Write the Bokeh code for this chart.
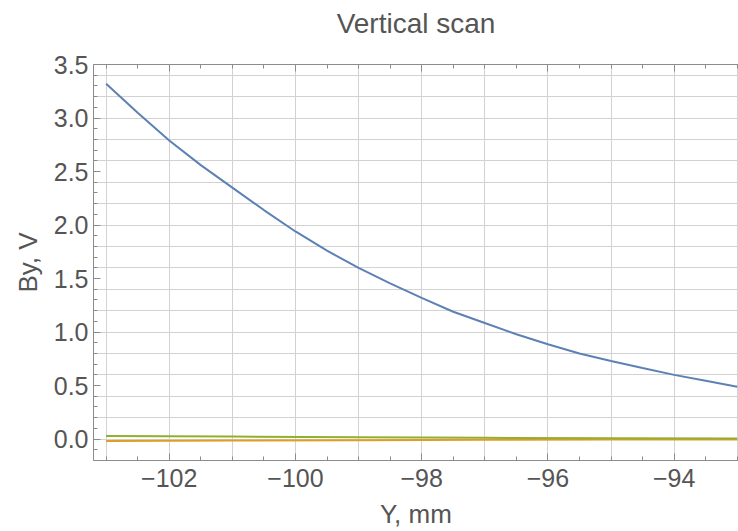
from bokeh.plotting import figure
from bokeh.models import (Range1d, SingleIntervalTicker, LinearAxis, Grid,
                          CustomJSTickFormatter, CustomLabelingPolicy)
from bokeh.embed import file_html
from bokeh.resources import INLINE

# data
y_mm = [-103, -102.5, -102, -101.5, -101, -100.5, -100, -99.5, -99, -98.5,
        -98, -97.5, -97, -96.5, -96, -95.5, -95, -94.5, -94, -93.5, -93]
by_main = [3.32, 3.05, 2.79, 2.56, 2.35, 2.14, 1.94, 1.76, 1.60, 1.455,
           1.32, 1.19, 1.085, 0.98, 0.886, 0.80, 0.73, 0.664, 0.60, 0.545, 0.49]
y_small = [-103, -101, -99, -97, -95, -93]
by_orange = [-0.018, -0.014, -0.010, -0.006, -0.004, -0.003]
by_green = [0.030, 0.024, 0.018, 0.012, 0.008, 0.005]

TITLE = "Vertical scan"
XLABEL = "Y, mm"
YLABEL = "By, V"

FONT = "Liberation Sans"
TXT = "#555555"
FRAME = "#8c8c8c"
GRID = "#d2d2d2"

p = figure(width=738, height=531, output_backend="svg", toolbar_location=None,
           x_range=Range1d(-103.2, -92.98), y_range=Range1d(-0.2, 3.5),
           x_axis_type=None, y_axis_type=None,
           min_border_left=93, min_border_right=0, min_border_top=53,
           min_border_bottom=71)
p.outline_line_color = None
p.background_fill_color = "white"
p.border_fill_color = "white"

p.title.text = TITLE
p.title.align = "center"
p.title.text_font = FONT
p.title.text_font_size = "28px"
p.title.text_font_style = "normal"
p.title.text_color = TXT

xt = SingleIntervalTicker(interval=2, num_minor_ticks=4)
yt = SingleIntervalTicker(interval=0.5, num_minor_ticks=5)
xfmt = CustomJSTickFormatter(code="return tick < 0 ? '\u2212' + Math.abs(tick) : '' + tick;")
yfmt = CustomJSTickFormatter(code="var s = Math.abs(tick).toFixed(1); return tick < -1e-9 ? '\u2212' + s : s;")

def style(ax):
    ax.axis_line_color = FRAME
    ax.axis_line_width = 1
    ax.major_tick_line_color = FRAME
    ax.minor_tick_line_color = FRAME
    ax.major_tick_in = 7
    ax.major_tick_out = 0
    ax.minor_tick_in = 4
    ax.minor_tick_out = 0
    ax.major_label_text_font = FONT
    ax.major_label_text_color = TXT
    ax.major_label_text_font_size = "25px"
    ax.axis_label_text_font = FONT
    ax.axis_label_text_color = TXT
    ax.axis_label_text_font_style = "normal"
    ax.axis_label_text_font_size = "26px"

xa = LinearAxis(ticker=xt, formatter=xfmt, axis_label=XLABEL)
style(xa)
xa.major_label_standoff = 8
xa.axis_label_standoff = 9
p.add_layout(xa, "below")

ya = LinearAxis(ticker=yt, formatter=yfmt, axis_label=YLABEL)
style(ya)
ya.major_label_standoff = 5
ya.axis_label_standoff = 8
p.add_layout(ya, "left")

# top frame edge with ticks only (no labels)
xtop = LinearAxis(ticker=xt, formatter=xfmt)
style(xtop)
xtop.major_label_standoff = 0
xtop.major_label_policy = CustomLabelingPolicy(
    code="const n = indices.size; for (let i = 0; i < n; i++) { indices.unset(i); } return indices;")
p.add_layout(xtop, "above")

p.add_layout(Grid(dimension=0, ticker=SingleIntervalTicker(interval=1),
                  grid_line_color=GRID, grid_line_width=1))
p.add_layout(Grid(dimension=1, ticker=SingleIntervalTicker(interval=0.2),
                  grid_line_color=GRID, grid_line_width=1))

p.line(y_mm, by_main, line_color="#5E81B5", line_width=2)
p.line(y_small, by_orange, line_color="#E19C24", line_width=2)
p.line(y_small, by_green, line_color="#8FB032", line_width=2)

open("out.html", "w").write(file_html(p, INLINE))
